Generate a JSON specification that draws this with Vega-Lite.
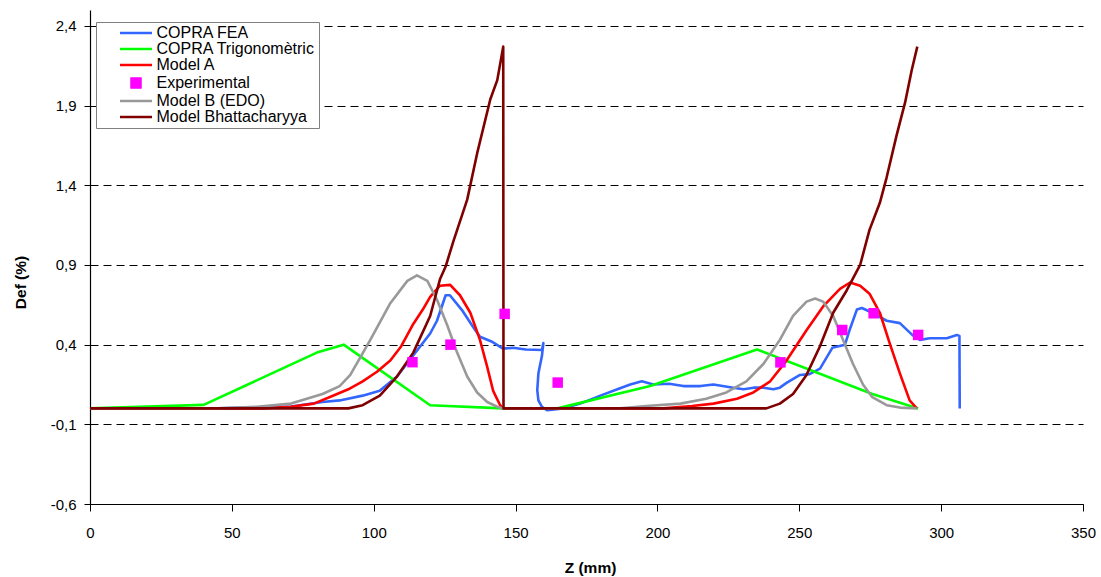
{
  "$schema": "https://vega.github.io/schema/vega-lite/v6.json",
  "width": 993,
  "height": 494,
  "autosize": {"type": "none"},
  "padding": {"left": 90, "top": 10, "right": 18, "bottom": 73},
  "background": "white",
  "config": {
    "view": {"stroke": null},
    "font": "Liberation Sans"
  },
  "datasets": {
    "lines": [
      {"s": "COPRA FEA", "i": 1, "z": 44.6, "d": 0},
      {"s": "COPRA FEA", "i": 2, "z": 55.7, "d": 0.005},
      {"s": "COPRA FEA", "i": 3, "z": 70.85, "d": 0.012},
      {"s": "COPRA FEA", "i": 4, "z": 81.95, "d": 0.04},
      {"s": "COPRA FEA", "i": 5, "z": 88.0, "d": 0.05},
      {"s": "COPRA FEA", "i": 6, "z": 96.1, "d": 0.08},
      {"s": "COPRA FEA", "i": 7, "z": 102.1, "d": 0.11},
      {"s": "COPRA FEA", "i": 8, "z": 108.2, "d": 0.2},
      {"s": "COPRA FEA", "i": 9, "z": 114.05, "d": 0.335},
      {"s": "COPRA FEA", "i": 10, "z": 119.9, "d": 0.47},
      {"s": "COPRA FEA", "i": 11, "z": 122.3, "d": 0.55},
      {"s": "COPRA FEA", "i": 12, "z": 125.35, "d": 0.71},
      {"s": "COPRA FEA", "i": 13, "z": 126.85, "d": 0.71},
      {"s": "COPRA FEA", "i": 14, "z": 131.4, "d": 0.61},
      {"s": "COPRA FEA", "i": 15, "z": 135.45, "d": 0.5},
      {"s": "COPRA FEA", "i": 16, "z": 137.45, "d": 0.45},
      {"s": "COPRA FEA", "i": 17, "z": 141.5, "d": 0.42},
      {"s": "COPRA FEA", "i": 18, "z": 145.55, "d": 0.375},
      {"s": "COPRA FEA", "i": 19, "z": 149.1, "d": 0.38},
      {"s": "COPRA FEA", "i": 20, "z": 153.6, "d": 0.37},
      {"s": "COPRA FEA", "i": 21, "z": 159.3, "d": 0.366},
      {"s": "COPRA FEA", "i": 22, "z": 159.8, "d": 0.41},
      {"s": "COPRA FEA", "i": 23, "z": 159.3, "d": 0.33},
      {"s": "COPRA FEA", "i": 24, "z": 158.05, "d": 0.22},
      {"s": "COPRA FEA", "i": 25, "z": 157.65, "d": 0.115},
      {"s": "COPRA FEA", "i": 26, "z": 158.05, "d": 0.05},
      {"s": "COPRA FEA", "i": 27, "z": 159.3, "d": 0.01},
      {"s": "COPRA FEA", "i": 28, "z": 161.2, "d": -0.012},
      {"s": "COPRA FEA", "i": 29, "z": 166.75, "d": 0},
      {"s": "COPRA FEA", "i": 30, "z": 172.8, "d": 0.03},
      {"s": "COPRA FEA", "i": 31, "z": 179.9, "d": 0.08},
      {"s": "COPRA FEA", "i": 32, "z": 185.9, "d": 0.12},
      {"s": "COPRA FEA", "i": 33, "z": 190.4, "d": 0.15},
      {"s": "COPRA FEA", "i": 34, "z": 194.5, "d": 0.17},
      {"s": "COPRA FEA", "i": 35, "z": 198.55, "d": 0.15},
      {"s": "COPRA FEA", "i": 36, "z": 204.1, "d": 0.155},
      {"s": "COPRA FEA", "i": 37, "z": 209.15, "d": 0.14},
      {"s": "COPRA FEA", "i": 38, "z": 215.2, "d": 0.14},
      {"s": "COPRA FEA", "i": 39, "z": 219.75, "d": 0.15},
      {"s": "COPRA FEA", "i": 40, "z": 226.7, "d": 0.13},
      {"s": "COPRA FEA", "i": 41, "z": 230.35, "d": 0.12},
      {"s": "COPRA FEA", "i": 42, "z": 233.9, "d": 0.13},
      {"s": "COPRA FEA", "i": 43, "z": 237.4, "d": 0.13},
      {"s": "COPRA FEA", "i": 44, "z": 240.85, "d": 0.12},
      {"s": "COPRA FEA", "i": 45, "z": 243.15, "d": 0.13},
      {"s": "COPRA FEA", "i": 46, "z": 245.5, "d": 0.16},
      {"s": "COPRA FEA", "i": 47, "z": 250.25, "d": 0.21},
      {"s": "COPRA FEA", "i": 48, "z": 253.6, "d": 0.215},
      {"s": "COPRA FEA", "i": 49, "z": 257.3, "d": 0.25},
      {"s": "COPRA FEA", "i": 50, "z": 261.65, "d": 0.38},
      {"s": "COPRA FEA", "i": 51, "z": 266.1, "d": 0.4},
      {"s": "COPRA FEA", "i": 52, "z": 267.7, "d": 0.49},
      {"s": "COPRA FEA", "i": 53, "z": 270.3, "d": 0.62},
      {"s": "COPRA FEA", "i": 54, "z": 272.05, "d": 0.63},
      {"s": "COPRA FEA", "i": 55, "z": 275.75, "d": 0.6},
      {"s": "COPRA FEA", "i": 56, "z": 280.8, "d": 0.55},
      {"s": "COPRA FEA", "i": 57, "z": 285.45, "d": 0.535},
      {"s": "COPRA FEA", "i": 58, "z": 289.9, "d": 0.46},
      {"s": "COPRA FEA", "i": 59, "z": 292.55, "d": 0.43},
      {"s": "COPRA FEA", "i": 60, "z": 295.95, "d": 0.44},
      {"s": "COPRA FEA", "i": 61, "z": 299.6, "d": 0.44},
      {"s": "COPRA FEA", "i": 62, "z": 302.0, "d": 0.44},
      {"s": "COPRA FEA", "i": 63, "z": 305.55, "d": 0.46},
      {"s": "COPRA FEA", "i": 64, "z": 306.45, "d": 0.455},
      {"s": "COPRA FEA", "i": 65, "z": 306.55, "d": 0},

      {"s": "COPRA Trigonomètric", "i": 1, "z": 0, "d": 0},
      {"s": "COPRA Trigonomètric", "i": 2, "z": 40.05, "d": 0.022},
      {"s": "COPRA Trigonomètric", "i": 3, "z": 79.95, "d": 0.35},
      {"s": "COPRA Trigonomètric", "i": 4, "z": 89.4, "d": 0.4},
      {"s": "COPRA Trigonomètric", "i": 5, "z": 119.9, "d": 0.02},
      {"s": "COPRA Trigonomètric", "i": 6, "z": 145.55, "d": 0},
      {"s": "COPRA Trigonomètric", "i": 7, "z": 164.75, "d": 0},
      {"s": "COPRA Trigonomètric", "i": 8, "z": 197.45, "d": 0.14},
      {"s": "COPRA Trigonomètric", "i": 9, "z": 235.1, "d": 0.37},
      {"s": "COPRA Trigonomètric", "i": 10, "z": 275.75, "d": 0.09},
      {"s": "COPRA Trigonomètric", "i": 11, "z": 291.9, "d": 0},

      {"s": "Model A", "i": 1, "z": 0, "d": 0},
      {"s": "Model A", "i": 2, "z": 60.75, "d": 0},
      {"s": "Model A", "i": 3, "z": 70.85, "d": 0.01},
      {"s": "Model A", "i": 4, "z": 78.9, "d": 0.03},
      {"s": "Model A", "i": 5, "z": 85.0, "d": 0.075},
      {"s": "Model A", "i": 6, "z": 91.05, "d": 0.12},
      {"s": "Model A", "i": 7, "z": 96.1, "d": 0.17},
      {"s": "Model A", "i": 8, "z": 101.15, "d": 0.23},
      {"s": "Model A", "i": 9, "z": 105.85, "d": 0.3},
      {"s": "Model A", "i": 10, "z": 109.7, "d": 0.39},
      {"s": "Model A", "i": 11, "z": 113.95, "d": 0.53},
      {"s": "Model A", "i": 12, "z": 117.3, "d": 0.62},
      {"s": "Model A", "i": 13, "z": 119.9, "d": 0.7},
      {"s": "Model A", "i": 14, "z": 123.35, "d": 0.77},
      {"s": "Model A", "i": 15, "z": 126.95, "d": 0.775},
      {"s": "Model A", "i": 16, "z": 130.4, "d": 0.71},
      {"s": "Model A", "i": 17, "z": 134.05, "d": 0.6},
      {"s": "Model A", "i": 18, "z": 137.45, "d": 0.43},
      {"s": "Model A", "i": 19, "z": 140.0, "d": 0.26},
      {"s": "Model A", "i": 20, "z": 142.1, "d": 0.11},
      {"s": "Model A", "i": 21, "z": 144.55, "d": 0.02},
      {"s": "Model A", "i": 22, "z": 145.55, "d": 0},
      {"s": "Model A", "i": 23, "z": 202.1, "d": 0},
      {"s": "Model A", "i": 24, "z": 212.2, "d": 0.015},
      {"s": "Model A", "i": 25, "z": 219.75, "d": 0.03},
      {"s": "Model A", "i": 26, "z": 228.05, "d": 0.06},
      {"s": "Model A", "i": 27, "z": 233.8, "d": 0.1},
      {"s": "Model A", "i": 28, "z": 239.75, "d": 0.17},
      {"s": "Model A", "i": 29, "z": 245.5, "d": 0.3},
      {"s": "Model A", "i": 30, "z": 252.55, "d": 0.49},
      {"s": "Model A", "i": 31, "z": 258.4, "d": 0.64},
      {"s": "Model A", "i": 32, "z": 264.35, "d": 0.75},
      {"s": "Model A", "i": 33, "z": 267.9, "d": 0.79},
      {"s": "Model A", "i": 34, "z": 271.45, "d": 0.77},
      {"s": "Model A", "i": 35, "z": 274.75, "d": 0.72},
      {"s": "Model A", "i": 36, "z": 278.4, "d": 0.6},
      {"s": "Model A", "i": 37, "z": 281.85, "d": 0.41},
      {"s": "Model A", "i": 38, "z": 285.45, "d": 0.22},
      {"s": "Model A", "i": 39, "z": 288.9, "d": 0.05},
      {"s": "Model A", "i": 40, "z": 291.4, "d": 0},

      {"s": "Model B (EDO)", "i": 1, "z": 0, "d": 0},
      {"s": "Model B (EDO)", "i": 2, "z": 45.6, "d": 0},
      {"s": "Model B (EDO)", "i": 3, "z": 58.75, "d": 0.01},
      {"s": "Model B (EDO)", "i": 4, "z": 70.85, "d": 0.03},
      {"s": "Model B (EDO)", "i": 5, "z": 81.95, "d": 0.09},
      {"s": "Model B (EDO)", "i": 6, "z": 88.0, "d": 0.14},
      {"s": "Model B (EDO)", "i": 7, "z": 91.75, "d": 0.21},
      {"s": "Model B (EDO)", "i": 8, "z": 98.8, "d": 0.43},
      {"s": "Model B (EDO)", "i": 9, "z": 105.85, "d": 0.66},
      {"s": "Model B (EDO)", "i": 10, "z": 111.85, "d": 0.8},
      {"s": "Model B (EDO)", "i": 11, "z": 115.25, "d": 0.835},
      {"s": "Model B (EDO)", "i": 12, "z": 118.9, "d": 0.8},
      {"s": "Model B (EDO)", "i": 13, "z": 122.35, "d": 0.68},
      {"s": "Model B (EDO)", "i": 14, "z": 125.95, "d": 0.52},
      {"s": "Model B (EDO)", "i": 15, "z": 129.4, "d": 0.35},
      {"s": "Model B (EDO)", "i": 16, "z": 132.95, "d": 0.2},
      {"s": "Model B (EDO)", "i": 17, "z": 136.45, "d": 0.1},
      {"s": "Model B (EDO)", "i": 18, "z": 140.0, "d": 0.04},
      {"s": "Model B (EDO)", "i": 19, "z": 143.55, "d": 0.01},
      {"s": "Model B (EDO)", "i": 20, "z": 145.55, "d": 0},
      {"s": "Model B (EDO)", "i": 21, "z": 186.95, "d": 0},
      {"s": "Model B (EDO)", "i": 22, "z": 196.0, "d": 0.015},
      {"s": "Model B (EDO)", "i": 23, "z": 208.15, "d": 0.03},
      {"s": "Model B (EDO)", "i": 24, "z": 217.2, "d": 0.06},
      {"s": "Model B (EDO)", "i": 25, "z": 224.3, "d": 0.1},
      {"s": "Model B (EDO)", "i": 26, "z": 231.35, "d": 0.17},
      {"s": "Model B (EDO)", "i": 27, "z": 237.4, "d": 0.28},
      {"s": "Model B (EDO)", "i": 28, "z": 243.15, "d": 0.43},
      {"s": "Model B (EDO)", "i": 29, "z": 247.8, "d": 0.58},
      {"s": "Model B (EDO)", "i": 30, "z": 252.55, "d": 0.67},
      {"s": "Model B (EDO)", "i": 31, "z": 255.6, "d": 0.69},
      {"s": "Model B (EDO)", "i": 32, "z": 258.4, "d": 0.67},
      {"s": "Model B (EDO)", "i": 33, "z": 261.95, "d": 0.58},
      {"s": "Model B (EDO)", "i": 34, "z": 265.4, "d": 0.43},
      {"s": "Model B (EDO)", "i": 35, "z": 268.9, "d": 0.28},
      {"s": "Model B (EDO)", "i": 36, "z": 272.45, "d": 0.15},
      {"s": "Model B (EDO)", "i": 37, "z": 275.75, "d": 0.07},
      {"s": "Model B (EDO)", "i": 38, "z": 280.8, "d": 0.02},
      {"s": "Model B (EDO)", "i": 39, "z": 285.45, "d": 0.005},
      {"s": "Model B (EDO)", "i": 40, "z": 291.4, "d": 0},

      {"s": "Model Bhattacharyya", "i": 1, "z": 0, "d": 0},
      {"s": "Model Bhattacharyya", "i": 2, "z": 91.05, "d": 0},
      {"s": "Model Bhattacharyya", "i": 3, "z": 96.1, "d": 0.02},
      {"s": "Model Bhattacharyya", "i": 4, "z": 102.15, "d": 0.08},
      {"s": "Model Bhattacharyya", "i": 5, "z": 108.2, "d": 0.2},
      {"s": "Model Bhattacharyya", "i": 6, "z": 113.95, "d": 0.35},
      {"s": "Model Bhattacharyya", "i": 7, "z": 119.9, "d": 0.58},
      {"s": "Model Bhattacharyya", "i": 8, "z": 123.35, "d": 0.81},
      {"s": "Model Bhattacharyya", "i": 9, "z": 125.35, "d": 0.89},
      {"s": "Model Bhattacharyya", "i": 10, "z": 128.1, "d": 1.05},
      {"s": "Model Bhattacharyya", "i": 11, "z": 132.95, "d": 1.31},
      {"s": "Model Bhattacharyya", "i": 12, "z": 136.45, "d": 1.6},
      {"s": "Model Bhattacharyya", "i": 13, "z": 141.1, "d": 1.94},
      {"s": "Model Bhattacharyya", "i": 14, "z": 143.55, "d": 2.06},
      {"s": "Model Bhattacharyya", "i": 15, "z": 145.65, "d": 2.27},
      {"s": "Model Bhattacharyya", "i": 16, "z": 145.75, "d": 0},
      {"s": "Model Bhattacharyya", "i": 17, "z": 238.4, "d": 0},
      {"s": "Model Bhattacharyya", "i": 18, "z": 243.15, "d": 0.03},
      {"s": "Model Bhattacharyya", "i": 19, "z": 247.8, "d": 0.09},
      {"s": "Model Bhattacharyya", "i": 20, "z": 252.55, "d": 0.21},
      {"s": "Model Bhattacharyya", "i": 21, "z": 257.3, "d": 0.39},
      {"s": "Model Bhattacharyya", "i": 22, "z": 261.95, "d": 0.6},
      {"s": "Model Bhattacharyya", "i": 23, "z": 266.7, "d": 0.74},
      {"s": "Model Bhattacharyya", "i": 24, "z": 271.45, "d": 0.9},
      {"s": "Model Bhattacharyya", "i": 25, "z": 274.75, "d": 1.12},
      {"s": "Model Bhattacharyya", "i": 26, "z": 278.4, "d": 1.29},
      {"s": "Model Bhattacharyya", "i": 27, "z": 280.8, "d": 1.45},
      {"s": "Model Bhattacharyya", "i": 28, "z": 284.25, "d": 1.71},
      {"s": "Model Bhattacharyya", "i": 29, "z": 287.3, "d": 1.92},
      {"s": "Model Bhattacharyya", "i": 30, "z": 289.6, "d": 2.12},
      {"s": "Model Bhattacharyya", "i": 31, "z": 291.6, "d": 2.27}
    ],
    "exp": [
      {"s": "Experimental", "z": 113.65, "d": 0.29},
      {"s": "Experimental", "z": 127.05, "d": 0.4},
      {"s": "Experimental", "z": 146.15, "d": 0.593},
      {"s": "Experimental", "z": 164.85, "d": 0.162},
      {"s": "Experimental", "z": 243.35, "d": 0.289},
      {"s": "Experimental", "z": 265.15, "d": 0.492},
      {"s": "Experimental", "z": 276.2, "d": 0.597},
      {"s": "Experimental", "z": 291.9, "d": 0.461}
    ]
  },
  "encoding": {
    "x": {
      "field": "z", "type": "quantitative",
      "scale": {"domain": [0, 350], "nice": false, "zero": false},
      "axis": {
        "title": "Z (mm)", "values": [0, 50, 100, 150, 200, 250, 300, 350],
        "grid": false, "domainColor": "#000", "domainWidth": 1.2,
        "tickColor": "#000", "tickSize": 7, "tickWidth": 1,
        "labelFlush": false, "labelOverlap": false,
        "labelFontSize": 15, "labelColor": "#000", "labelPadding": 14, "labelFont": "Liberation Sans",
        "titleFontSize": 15.5, "titleFontWeight": "bold", "titleColor": "#000", "titleFont": "Liberation Sans",
        "titleX": 500, "titleY": 63, "titleBaseline": "middle", "titleAnchor": null
      }
    },
    "y": {
      "field": "d", "type": "quantitative",
      "scale": {"domain": [-0.6, 2.5], "nice": false, "zero": false},
      "axis": {
        "title": "Def (%)", "values": [-0.6, -0.1, 0.4, 0.9, 1.4, 1.9, 2.4],
        "labelExpr": "(datum.value < 0 ? '-' : '') + replace(format(abs(datum.value), '.1f'), '.', ',')",
        "grid": true, "gridColor": "#000", "gridDash": [8, 5], "gridWidth": 1,
        "domainColor": "#000", "domainWidth": 1.2,
        "tickColor": "#000", "tickSize": 6, "tickWidth": 1,
        "labelFlush": false,
        "labelFontSize": 15, "labelColor": "#000", "labelPadding": 8, "labelFont": "Liberation Sans",
        "titleFontSize": 15.5, "titleFontWeight": "bold", "titleColor": "#000", "titleFont": "Liberation Sans",
        "titleX": -70, "titleY": 272, "titleAngle": -90, "titleBaseline": "middle", "titleAlign": "center"
      }
    }
  },
  "layer": [
    {
      "data": {"name": "lines"},
      "mark": {"type": "line", "strokeWidth": 2.6, "strokeJoin": "round"},
      "encoding": {
        "order": {"field": "i", "type": "quantitative"},
        "color": {
          "field": "s", "type": "nominal",
          "scale": {
            "domain": ["COPRA FEA", "COPRA Trigonomètric", "Model A", "Experimental", "Model B (EDO)", "Model Bhattacharyya"],
            "range": ["#3366FF", "#00FF00", "#FF0000", "#FF00FF", "#999999", "#800000"]
          },
          "legend": {
            "title": null, "orient": "none", "legendX": 6, "legendY": 12,
            "fillColor": "white", "strokeColor": "#808080", "padding": 3,
            "labelFontSize": 16, "labelFont": "Liberation Sans", "labelColor": "#000",
            "labelLimit": 400,
            "labelOffset": 12.5, "rowPadding": 0, "symbolOffset": 29,
            "encode": {
              "symbols": {
                "update": {
                  "shape": [{"test": "datum.value === 'Experimental'", "value": "M-0.9,-0.9H0.9V0.9H-0.9Z"}, {"value": "M-3.2,0H3.2"}],
                  "fill": [{"test": "datum.value === 'Experimental'", "scale": "color", "field": "value"}, {"value": "transparent"}],
                  "stroke": [{"test": "datum.value === 'Experimental'", "value": "transparent"}, {"scale": "color", "field": "value"}],
                  "strokeWidth": {"value": 2.5},
                  "size": {"value": 100},
                  "opacity": {"value": 1}
                }
              }
            }
          }
        }
      }
    },
    {
      "data": {"name": "exp"},
      "mark": {"type": "point", "shape": "square", "filled": true, "size": 110, "opacity": 1},
      "encoding": {
        "color": {"field": "s", "type": "nominal"}
      }
    }
  ]
}
